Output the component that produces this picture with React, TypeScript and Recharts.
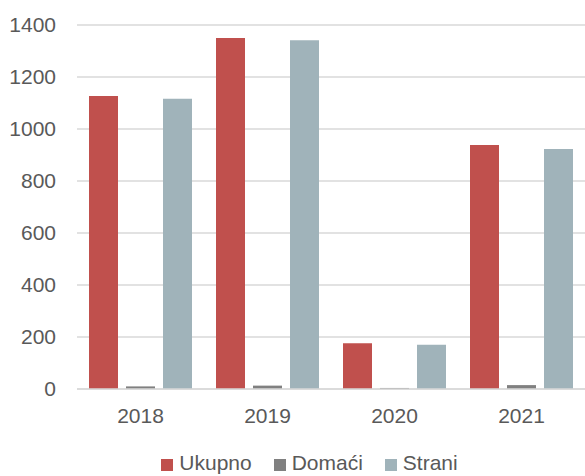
import React from 'react';
import { BarChart, Bar, XAxis, YAxis, CartesianGrid, Legend } from 'recharts';

const years = ['2018', '2019', '2020', '2021'];
const ukupno = [1127, 1350, 176, 938];
const domaci = [10, 13, 4, 15];
const strani = [1116, 1341, 170, 923];
const yTicks = [0, 200, 400, 600, 800, 1000, 1200, 1400];

const series = [
  { key: 'ukupno', name: 'Ukupno', color: '#C0504D' },
  { key: 'domaci', name: 'Domaći', color: '#808080' },
  { key: 'strani', name: 'Strani', color: '#A0B3BA' },
];

const data = years.map((y, i) => ({
  year: y,
  ukupno: ukupno[i],
  domaci: domaci[i],
  strani: strani[i],
}));

const FONT = '"Liberation Sans", Arial, sans-serif';
const TEXT = '#595959';

const LegendContent = () => (
  <div
    style={{
      display: 'flex',
      justifyContent: 'center',
      alignItems: 'center',
      marginTop: 16,
      paddingLeft: 34,
      fontFamily: FONT,
      fontSize: 21,
      lineHeight: '22px',
      color: TEXT,
    }}
  >
    {series.map((s, i) => (
      <div key={s.key} style={{ display: 'flex', alignItems: 'center', marginLeft: i === 0 ? 0 : 22 }}>
        <span style={{ width: 12, height: 12, background: s.color, display: 'inline-block', marginRight: 6, marginTop: 3 }} />
        <span>{s.name}</span>
      </div>
    ))}
  </div>
);

export default function App() {
  return (
    <div style={{ position: 'absolute', left: 0, top: 0, width: 585, height: 476, background: '#fff' }}>
      <BarChart
        width={585}
        height={476}
        data={data}
        margin={{ top: 25, right: 0, bottom: 0, left: 0 }}
        barSize={29}
        barGap={8}
      >
        <CartesianGrid vertical={false} stroke="#D9D9D9" strokeWidth={1.5} />
        <XAxis
          dataKey="year"
          height={47}
          tickSize={0}
          tickMargin={19}
          axisLine={{ stroke: '#D9D9D9', strokeWidth: 1.5 }}
          tick={{ fill: TEXT, fontSize: 21, fontFamily: FONT }}
        />
        <YAxis
          width={77}
          domain={[0, 1400]}
          ticks={yTicks}
          tickSize={0}
          tickMargin={21}
          axisLine={false}
          tick={{ fill: TEXT, fontSize: 21, fontFamily: FONT }}
        />
        <Legend verticalAlign="bottom" height={40} content={<LegendContent />} />
        {series.map((s) => (
          <Bar key={s.key} dataKey={s.key} name={s.name} fill={s.color} isAnimationActive={false} />
        ))}
      </BarChart>
    </div>
  );
}
